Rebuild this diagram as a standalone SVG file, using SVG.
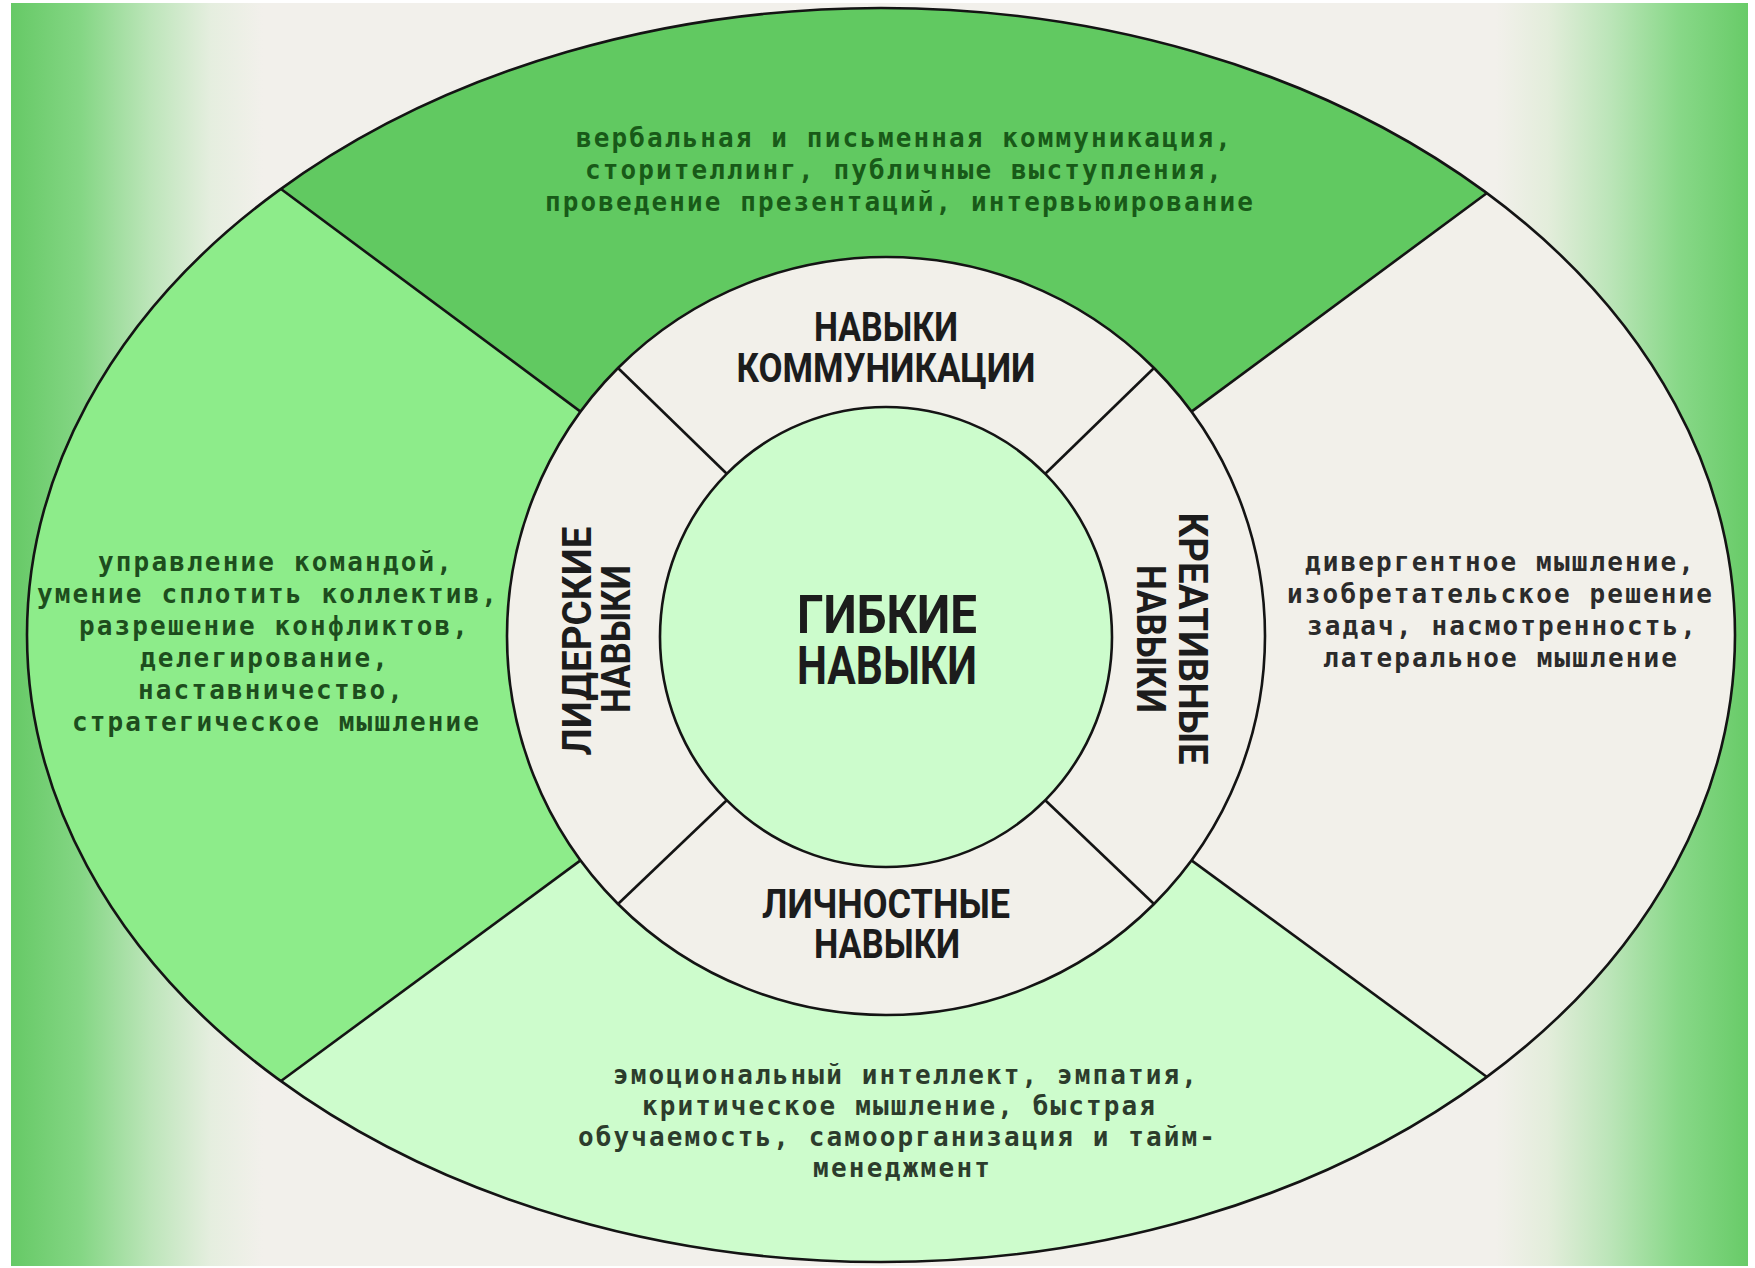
<svg xmlns="http://www.w3.org/2000/svg" width="1755" height="1268" viewBox="0 0 1755 1268">
<defs>
<linearGradient id="bg" x1="11" y1="0" x2="1748" y2="0" gradientUnits="userSpaceOnUse">
<stop offset="0" stop-color="#66c966"/>
<stop offset="0.04" stop-color="#84d684"/>
<stop offset="0.08" stop-color="#bce5b9"/>
<stop offset="0.115" stop-color="#e5eedf"/>
<stop offset="0.145" stop-color="#f2f0eb"/>
<stop offset="0.855" stop-color="#f2f0eb"/>
<stop offset="0.885" stop-color="#e3eddb"/>
<stop offset="0.92" stop-color="#bce5b9"/>
<stop offset="0.96" stop-color="#88d888"/>
<stop offset="1" stop-color="#68cb68"/>
</linearGradient>
<style>
.line{fill:none;stroke:#141414;stroke-width:2.6}
.desc{font-family:"DejaVu Sans Mono","Liberation Mono",monospace;font-size:26px;font-weight:bold}
.head{font-family:Roboto,"Liberation Sans",sans-serif;font-weight:bold;fill:#1c1c1c;text-anchor:middle}
</style>
</defs>
<rect x="0" y="0" width="1755" height="1268" fill="#ffffff"/>
<rect x="11" y="3" width="1737" height="1263" fill="url(#bg)"/>

<g id="outer-top">
<path d="M281,189 A854,627 0 0 1 1487,193 L1191.5,411.6 A379,379 0 0 0 580.5,411.6 Z" fill="#61c961"/>
<g class="desc" fill="#185a18">
<text x="576" y="147" textLength="655">вербальная и письменная коммуникация,</text>
<text x="585" y="179" textLength="637">сторителлинг, публичные выступления,</text>
<text x="545" y="211" textLength="708">проведение презентаций, интервьюирование</text>
</g>
</g>

<g id="outer-right">
<path d="M1487,193 A854,627 0 0 1 1487,1077 L1191.5,860.4 A379,379 0 0 0 1191.5,411.6 Z" fill="#f2f0ea"/>
<g class="desc" fill="#2b2b2b">
<text x="1305" y="571" textLength="389">дивергентное мышление,</text>
<text x="1287" y="603" textLength="425">изобретательское решение</text>
<text x="1307" y="635" textLength="389">задач, насмотренность,</text>
<text x="1323" y="667" textLength="354">латеральное мышление</text>
</g>
</g>

<g id="outer-bottom">
<path d="M1487,1077 A854,627 0 0 1 281,1081 L580.5,860.4 A379,379 0 0 0 1191.5,860.4 Z" fill="#cdfccc"/>
<g class="desc" fill="#2c3c2c">
<text x="613" y="1084" textLength="584">эмоциональный интеллект, эмпатия,</text>
<text x="642" y="1115" textLength="513">критическое мышление, быстрая</text>
<text x="578" y="1146" textLength="637">обучаемость, самоорганизация и тайм-</text>
<text x="813" y="1177" textLength="177">менеджмент</text>
</g>
</g>

<g id="outer-left">
<path d="M281,1081 A854,627 0 0 1 281,189 L580.5,411.6 A379,379 0 0 0 580.5,860.4 Z" fill="#8dec8a"/>
<g class="desc" fill="#1d4d1d">
<text x="98" y="571" textLength="354">управление командой,</text>
<text x="37" y="603" textLength="460">умение сплотить коллектив,</text>
<text x="79" y="635" textLength="389">разрешение конфликтов,</text>
<text x="140" y="667" textLength="248">делегирование,</text>
<text x="138" y="699" textLength="265">наставничество,</text>
<text x="72" y="731" textLength="407">стратегическое мышление</text>
</g>
</g>

<g id="ring-top">
<path d="M618,368 A379,379 0 0 1 1154,368 L1045,474 A226,230 0 0 0 727,474 Z" fill="#f2f0ea"/>
<text class="head" x="886" y="341" font-size="41" textLength="144" lengthAdjust="spacingAndGlyphs">НАВЫКИ</text>
<text class="head" x="886" y="382" font-size="41" textLength="299" lengthAdjust="spacingAndGlyphs">КОММУНИКАЦИИ</text>
</g>

<g id="ring-right">
<path d="M1154,368 A379,379 0 0 1 1154,904 L1045,800 A226,230 0 0 0 1045,474 Z" fill="#f2f0ea"/>
<text class="head" transform="translate(1179,638.5) rotate(90)" font-size="41" textLength="252" lengthAdjust="spacingAndGlyphs">КРЕАТИВНЫЕ</text>
<text class="head" transform="translate(1137,639) rotate(90)" font-size="41" textLength="148" lengthAdjust="spacingAndGlyphs">НАВЫКИ</text>
</g>

<g id="ring-bottom">
<path d="M1154,904 A379,379 0 0 1 618,904 L727,800 A226,230 0 0 0 1045,800 Z" fill="#f2f0ea"/>
<text class="head" x="886" y="918" font-size="41" textLength="248" lengthAdjust="spacingAndGlyphs">ЛИЧНОСТНЫЕ</text>
<text class="head" x="887" y="958" font-size="41" textLength="146" lengthAdjust="spacingAndGlyphs">НАВЫКИ</text>
</g>

<g id="ring-left">
<path d="M618,904 A379,379 0 0 1 618,368 L727,474 A226,230 0 0 0 727,800 Z" fill="#f2f0ea"/>
<text class="head" transform="translate(591,641) rotate(-90)" font-size="41" textLength="229" lengthAdjust="spacingAndGlyphs">ЛИДЕРСКИЕ</text>
<text class="head" transform="translate(630,639) rotate(-90)" font-size="41" textLength="148" lengthAdjust="spacingAndGlyphs">НАВЫКИ</text>
</g>

<g id="center">
<ellipse cx="886" cy="637" rx="226" ry="230" fill="#ccfccc"/>
<text class="head" x="887" y="633" font-size="54" textLength="180" lengthAdjust="spacingAndGlyphs">ГИБКИЕ</text>
<text class="head" x="887" y="684" font-size="54" textLength="180" lengthAdjust="spacingAndGlyphs">НАВЫКИ</text>
</g>

<g id="connectors">
<ellipse class="line" cx="881" cy="635" rx="854" ry="627"/>
<circle class="line" cx="886" cy="636" r="379"/>
<ellipse class="line" cx="886" cy="637" rx="226" ry="230"/>
<line class="line" x1="281" y1="189" x2="580.5" y2="411.6"/>
<line class="line" x1="1487" y1="193" x2="1191.5" y2="411.6"/>
<line class="line" x1="281" y1="1081" x2="580.5" y2="860.4"/>
<line class="line" x1="1487" y1="1077" x2="1191.5" y2="860.4"/>
<line class="line" x1="618" y1="368" x2="727" y2="474"/>
<line class="line" x1="1154" y1="368" x2="1045" y2="474"/>
<line class="line" x1="618" y1="904" x2="727" y2="800"/>
<line class="line" x1="1154" y1="904" x2="1045" y2="800"/>
</g>
</svg>
